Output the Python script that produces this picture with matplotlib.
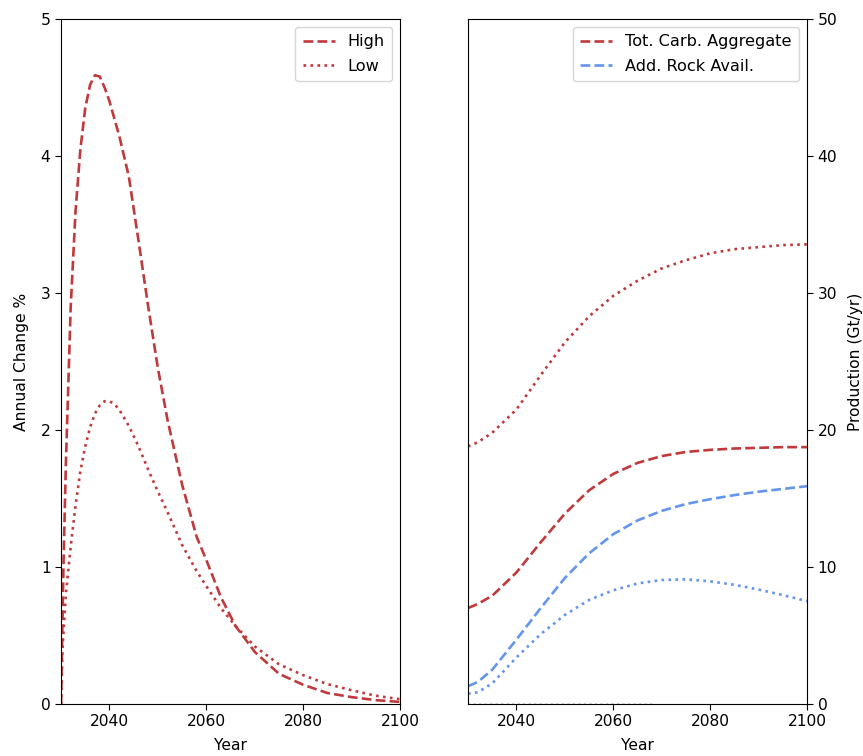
import numpy as np
import matplotlib.pyplot as plt

# left panel: annual change %
yr_high = [2030, 2030.5, 2031, 2032, 2033, 2034, 2035, 2036, 2037, 2038, 2039, 2040,
           2042, 2044, 2046, 2048, 2050, 2052, 2055, 2058, 2060, 2063, 2066, 2070,
           2075, 2080, 2085, 2090, 2095, 2100]
chg_high = [0, 1.0, 1.75, 2.9, 3.6, 4.05, 4.35, 4.52, 4.59, 4.58, 4.5, 4.4,
            4.15, 3.85, 3.38, 2.9, 2.45, 2.07, 1.6, 1.22, 1.05, 0.78, 0.57, 0.38,
            0.22, 0.14, 0.08, 0.05, 0.028, 0.015]

yr_low = [2030, 2030.3, 2031, 2032, 2033, 2034, 2035, 2036, 2037, 2038, 2039, 2040,
          2041, 2042, 2044, 2046, 2048, 2050, 2052, 2055, 2058, 2060, 2063, 2066,
          2070, 2075, 2080, 2085, 2090, 2095, 2100]
chg_low = [0, 0.4, 0.8, 1.15, 1.45, 1.7, 1.88, 2.02, 2.12, 2.18, 2.21, 2.21,
           2.19, 2.15, 2.03, 1.88, 1.71, 1.55, 1.4, 1.16, 0.97, 0.86, 0.7, 0.57,
           0.42, 0.29, 0.21, 0.145, 0.1, 0.06, 0.035]

# right panel: production (Gt/yr)
years = [2030, 2032, 2035, 2040, 2045, 2050, 2055, 2060, 2065, 2070, 2075, 2080,
         2085, 2090, 2095, 2100]
carb_high = [7.0, 7.3, 7.9, 9.6, 11.8, 13.9, 15.6, 16.8, 17.6, 18.1, 18.4, 18.55,
             18.65, 18.7, 18.75, 18.75]
carb_low = [18.8, 19.1, 19.8, 21.5, 24.0, 26.4, 28.3, 29.8, 30.9, 31.8, 32.4, 32.9,
            33.2, 33.35, 33.5, 33.55]
rock_high = [1.3, 1.6, 2.5, 4.7, 7.0, 9.2, 11.0, 12.4, 13.4, 14.1, 14.6, 14.95,
             15.25, 15.5, 15.7, 15.9]
rock_low = [0.75, 0.85, 1.5, 3.4, 5.1, 6.5, 7.6, 8.3, 8.8, 9.05, 9.1, 8.95,
            8.7, 8.35, 7.95, 7.5]
yr_zero = [2030, 2040, 2050, 2060, 2068]
zero_line = [0, 0, 0, 0, 0]

red = "#c0393b"
blue = "#6495ed"

plt.rcParams["font.size"] = 11.2
plt.rcParams["xtick.major.size"] = 4
plt.rcParams["ytick.major.size"] = 4
plt.rcParams["legend.fontsize"] = 11.6
plt.rcParams["legend.labelspacing"] = 0.6
plt.rcParams["legend.borderpad"] = 0.45

fig = plt.figure(figsize=(8.63, 7.56), dpi=100)
ax1 = fig.add_axes([0.0707, 0.0688, 0.393, 0.906])
ax2 = fig.add_axes([0.5423, 0.0688, 0.393, 0.906])

ax1.plot(yr_high, chg_high, color=red, linestyle="--", linewidth=1.9, label="High")
ax1.plot(yr_low, chg_low, color=red, linestyle=":", linewidth=1.9, label="Low")
ax1.set_xlim(2030, 2100)
ax1.set_ylim(0, 5)
ax1.set_xticks([2040, 2060, 2080, 2100])
ax1.set_xlabel("Year", labelpad=6)
ax1.set_ylabel("Annual Change %", labelpad=8)
ax1.legend(loc="upper right")

ax2.plot(years, carb_high, color=red, linestyle="--", linewidth=1.9, label="Tot. Carb. Aggregate")
ax2.plot(years, rock_high, color=blue, linestyle="--", linewidth=1.9, label="Add. Rock Avail.")
ax2.plot(years, carb_low, color=red, linestyle=":", linewidth=1.9)
ax2.plot(years, rock_low, color=blue, linestyle=":", linewidth=1.9)
ax2.plot(yr_zero, zero_line, color="#b0b8c8", linestyle=":", linewidth=1.5, alpha=0.7)
ax2.set_xlim(2030, 2100)
ax2.set_ylim(0, 50)
ax2.set_xticks([2040, 2060, 2080, 2100])
ax2.yaxis.tick_right()
ax2.yaxis.set_label_position("right")
ax2.set_xlabel("Year", labelpad=6)
ax2.set_ylabel("Production (Gt/yr)", labelpad=8)
ax2.legend(loc="upper right")

fig.savefig("out.png", dpi=100)
